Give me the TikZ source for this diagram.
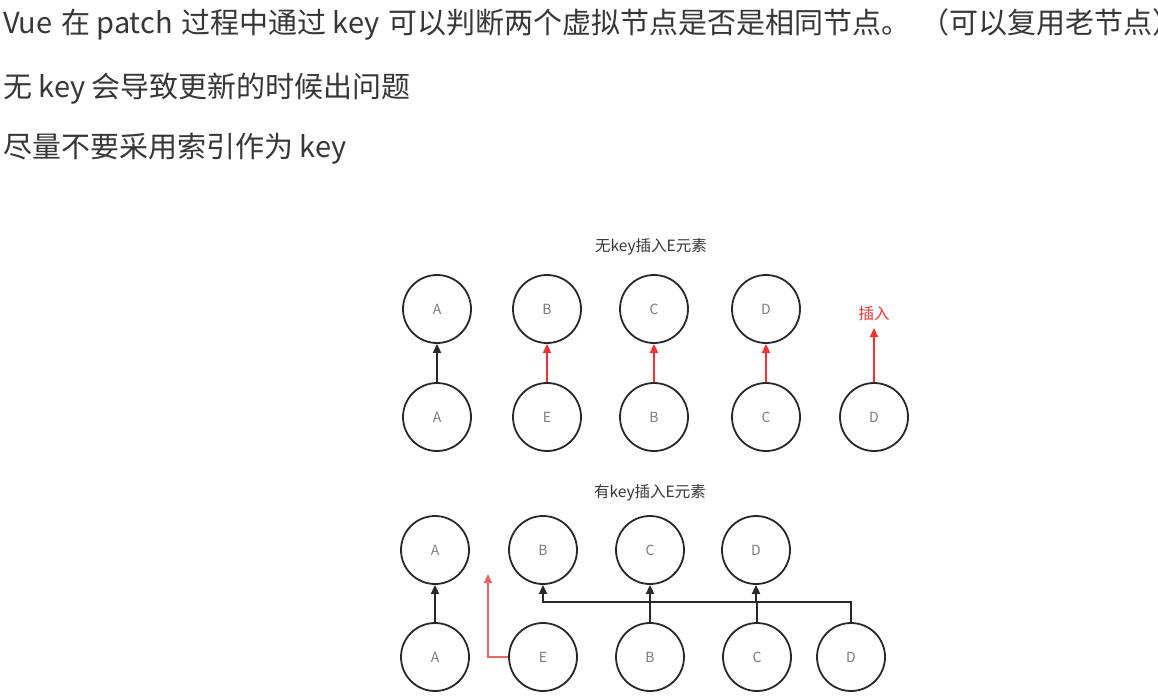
\documentclass[tikz,border=0pt]{standalone}
\usepackage{fontspec}
\setmainfont{Noto Sans CJK SC}
\usetikzlibrary{arrows.meta}
\definecolor{txt}{RGB}{55,55,55}
\definecolor{circ}{RGB}{40,40,40}
\definecolor{lbl}{RGB}{125,125,125}
\definecolor{redA}{RGB}{240,50,50}
\definecolor{redB}{RGB}{232,100,100}
\begin{document}
\begin{tikzpicture}[x=1pt,y=-1pt,
 vn/.style={circle,draw=circ,line width=1.8pt,minimum size=68pt,inner sep=0pt,font=\fontsize{14}{16}\selectfont,text=lbl},
 blk/.style={draw=circ,line width=1.8pt,-{Triangle[length=9pt,width=8pt]}},
 rda/.style={draw=redA,line width=1.8pt,-{Triangle[length=9pt,width=8pt]}},
 rdb/.style={draw=redB,line width=1.4pt,-{Triangle[length=9pt,width=8pt]}},
 tline/.style={font=\fontsize{29}{32}\selectfont,text=txt,anchor=base west,inner sep=0pt},
 ttl/.style={font=\fontsize{15.5}{18}\selectfont,text=txt,inner sep=0pt}]
\useasboundingbox (0,0) rectangle (1158,696);
\fill[white] (0,0) rectangle (1158,696);

% heading text
\node[tline] (l1) at (3,33) {Vue\hspace{2pt} 在 patch\hspace{2pt} 过程中通过 key\hspace{2pt} 可以判断两个虚拟节点是否是相同节点。\hspace{10pt}（可以复用老节点）};
\node[tline] (l2) at (3,97) {无 key 会导致更新的时候出问题};
\node[tline] (l3) at (3,157) {尽量不要采用索引作为 key};

% section 1
\node[ttl] (t1) at (651,247) {无key插入E元素};
\node[vn] (a1t) at (437,309) {A};
\node[vn] (b1t) at (547,309) {B};
\node[vn] (c1t) at (654,309) {C};
\node[vn] (d1t) at (766,309) {D};
\node[vn] (a1b) at (437,417) {A};
\node[vn] (e1b) at (547,417) {E};
\node[vn] (b1b) at (654,417) {B};
\node[vn] (c1b) at (766,417) {C};
\node[vn] (d1b) at (874,417) {D};
\node[ttl,text=redA] (ins) at (874,314) {插入};
\coordinate (instip) at (874,328);
\draw[blk] (a1b.north) -- (a1t.south);
\draw[rda] (e1b.north) -- (b1t.south);
\draw[rda] (b1b.north) -- (c1t.south);
\draw[rda] (c1b.north) -- (d1t.south);
\draw[rda] (d1b.north) -- (instip);

% section 2
\node[ttl] (t2) at (650,493) {有key插入E元素};
\node[vn] (a2t) at (435,550) {A};
\node[vn] (b2t) at (543,550) {B};
\node[vn] (c2t) at (650,550) {C};
\node[vn] (d2t) at (756,550) {D};
\node[vn] (a2b) at (435,657) {A};
\node[vn] (e2b) at (543,657) {E};
\node[vn] (b2b) at (650,657) {B};
\node[vn] (c2b) at (757,657) {C};
\node[vn] (d2b) at (851,657) {D};
\coordinate (hl) at (0,602);
\coordinate (ebend) at (488,657);
\coordinate (etip) at (488,574);
\draw[blk] (a2b.north) -- (a2t.south);
\draw[rdb] (e2b.west) -- (ebend) -- (etip);
\draw[blk] (b2b.north) -- (b2b.north |- hl) -| (b2t.south);
\draw[blk] (c2b.north) -- (c2b.north |- hl) -| (c2t.south);
\draw[blk] (d2b.north) -- (d2b.north |- hl) -| (d2t.south);
\end{tikzpicture}
\end{document}
